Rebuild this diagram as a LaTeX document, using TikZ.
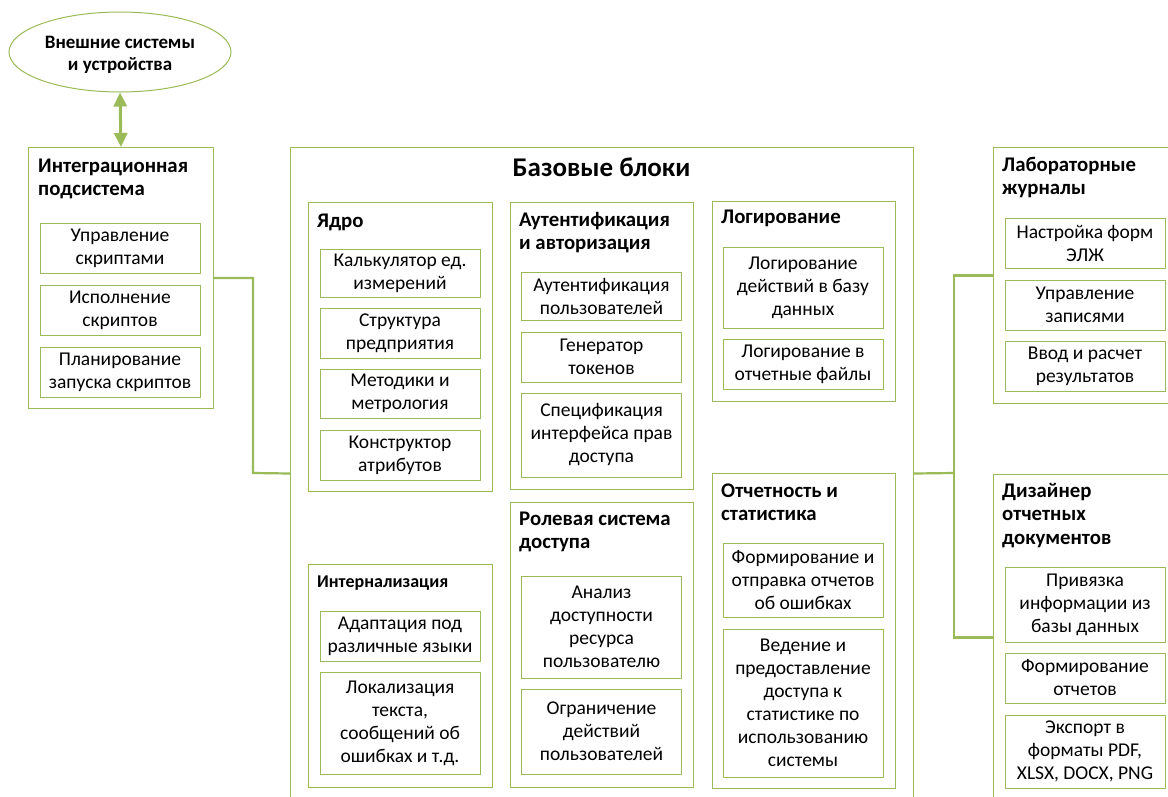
\documentclass[tikz,border=0pt]{standalone}
\usepackage{fontspec}
\setmainfont{Carlito}
\usetikzlibrary{shapes.geometric,arrows.meta}
\definecolor{grn}{HTML}{9BBB59}
\newcommand\bodyf{\fontsize{19.5}{23}\selectfont}
\newcommand\ttlf{\bfseries\fontsize{20.8}{23.5}\selectfont}
\tikzset{
  obox/.style={draw=grn, line width=1pt, anchor=north west, inner sep=0pt, fill=white},
  ibox/.style={draw=grn, line width=1pt, minimum width=160, align=center, inner sep=0pt, font=\bodyf},
  ttl/.style={anchor=base west, align=left, inner sep=0pt, font=\ttlf},
  conn/.style={draw=grn, line width=2.2pt},
  dblarrow/.style={draw=grn, line width=3pt, {Triangle[width=13pt,length=14pt]}-{Triangle[width=13pt,length=14pt]}}
}
\begin{document}
\begin{tikzpicture}[x=1pt,y=1pt]
\useasboundingbox (0,0) rectangle (1168,-796);
\clip (0,0) rectangle (1168,-796);
\fill[white] (0,0) rectangle (1168,-796);

% external systems
\node[ellipse, draw=grn, line width=1pt, minimum width=222, minimum height=80, inner sep=0pt] (ext) at (120,-52) {};
\node[anchor=base, align=center, inner sep=0pt, font=\bfseries\fontsize{19}{22}\selectfont] (extT) at (120,-70) {Внешние системы\\и устройства};

% integration subsystem
\node[obox, minimum width=185, minimum height=261] (integ) at (28,-147) {};
\node[ttl] (integT) at ([xshift=10pt,yshift=-48.5pt]integ.north west) {Интеграционная\\подсистема};
\node[ibox, minimum height=50] (i1) at (120,-248) {Управление\\скриптами};
\node[ibox, minimum height=50] (i2) at (120,-310) {Исполнение\\скриптов};
\node[ibox, minimum height=50] (i3) at (120,-372) {Планирование\\запуска скриптов};

\draw[dblarrow] (ext.south) -- (integ.north);

% base blocks
\node[obox, minimum width=623, minimum height=652] (base) at (290,-147) {};
\node[anchor=base, inner sep=0pt, font=\bfseries\fontsize{27}{32}\selectfont] (baseT) at (601.5,-176) {Базовые блоки};

% core
\node[obox, minimum width=184, minimum height=289] (core) at (308,-202) {};
\node[ttl] (coreT) at ([xshift=9pt,yshift=-25pt]core.north west) {Ядро};
\node[ibox, minimum height=48] (c1) at (400,-273) {Калькулятор ед.\\измерений};
\node[ibox, minimum height=50] (c2) at (400,-333) {Структура\\предприятия};
\node[ibox, minimum height=49] (c3) at (400,-393.5) {Методики и\\метрология};
\node[ibox, minimum height=50] (c4) at (400,-455) {Конструктор\\атрибутов};

% auth
\node[obox, minimum width=183, minimum height=287] (auth) at (510,-202) {};
\node[ttl] (authT) at ([xshift=9pt,yshift=-47.5pt]auth.north west) {Аутентификация\\и авторизация};
\node[ibox, minimum height=48] (a1) at (601.5,-296) {Аутентификация\\пользователей};
\node[ibox, minimum height=50] (a2) at (601.5,-357) {Генератор\\токенов};
\node[ibox, minimum height=84] (a3) at (601.5,-435) {Спецификация\\интерфейса прав\\доступа};

% logging
\node[obox, minimum width=183, minimum height=200] (log) at (712,-201) {};
\node[ttl] (logT) at ([xshift=9pt,yshift=-22pt]log.north west) {Логирование};
\node[ibox, minimum height=81] (l1) at (803,-287.5) {Логирование\\действий в базу\\данных};
\node[ibox, minimum height=50] (l2) at (803,-364) {Логирование в\\отчетные файлы};

% reports & statistics
\node[obox, minimum width=183, minimum height=315] (rep) at (712,-473) {};
\node[ttl] (repT) at ([xshift=9pt,yshift=-47.5pt]rep.north west) {Отчетность и\\статистика};
\node[ibox, minimum height=74] (r1) at (803,-580) {Формирование и\\отправка отчетов\\об ошибках};
\node[ibox, minimum height=148] (r2) at (803,-703) {Ведение и\\предоставление\\доступа к\\статистике по\\использованию\\системы};

% internalization
\node[obox, minimum width=184, minimum height=223] (intern) at (308,-564) {};
\node[ttl, font=\bfseries\fontsize{18}{22}\selectfont] (internT) at ([xshift=9pt,yshift=-23pt]intern.north west) {Интернализация};
\node[ibox, minimum height=50] (n1) at (400,-636) {Адаптация под\\различные языки};
\node[ibox, minimum height=102] (n2) at (400,-723) {Локализация\\текста,\\сообщений об\\ошибках и т.д.};

% role system
\node[obox, minimum width=183, minimum height=285] (role) at (510,-502) {};
\node[ttl] (roleT) at ([xshift=9pt,yshift=-46.5pt]role.north west) {Ролевая система\\доступа};
\node[ibox, minimum height=102] (o1) at (601.5,-627) {Анализ\\доступности\\ресурса\\пользователю};
\node[ibox, minimum height=85] (o2) at (601.5,-731.5) {Ограничение\\действий\\пользователей};

% lab journals
\node[obox, minimum width=187, minimum height=256] (lab) at (993,-147) {};
\node[ttl] (labT) at ([xshift=9pt,yshift=-47.5pt]lab.north west) {Лабораторные\\журналы};
\node[ibox, minimum height=50] (j1) at (1085,-243) {Настройка форм\\ЭЛЖ};
\node[ibox, minimum height=50] (j2) at (1085,-305) {Управление\\записями};
\node[ibox, minimum height=50] (j3) at (1085,-366) {Ввод и расчет\\результатов};

% report designer
\node[obox, minimum width=187, minimum height=326] (des) at (993,-474) {};
\node[ttl] (desT) at ([xshift=9pt,yshift=-70pt]des.north west) {Дизайнер\\отчетных\\документов};
\node[ibox, minimum height=75] (d1) at (1085,-604.5) {Привязка\\информации из\\базы данных};
\node[ibox, minimum height=50] (d2) at (1085,-678) {Формирование\\отчетов};
\node[ibox, minimum height=73] (d3) at (1085,-751.5) {Экспорт в\\форматы PDF,\\XLSX, DOCX, PNG};

% connectors
\coordinate (jl) at (253,-473);
\coordinate (jr) at (954,-473);
\draw[conn] (integ.east) -| (jl) -- (base.west);
\draw[conn] (base.east) -- (jr);
\draw[conn] (lab.west) -| (jr) |- (des.west);
\end{tikzpicture}
\end{document}
